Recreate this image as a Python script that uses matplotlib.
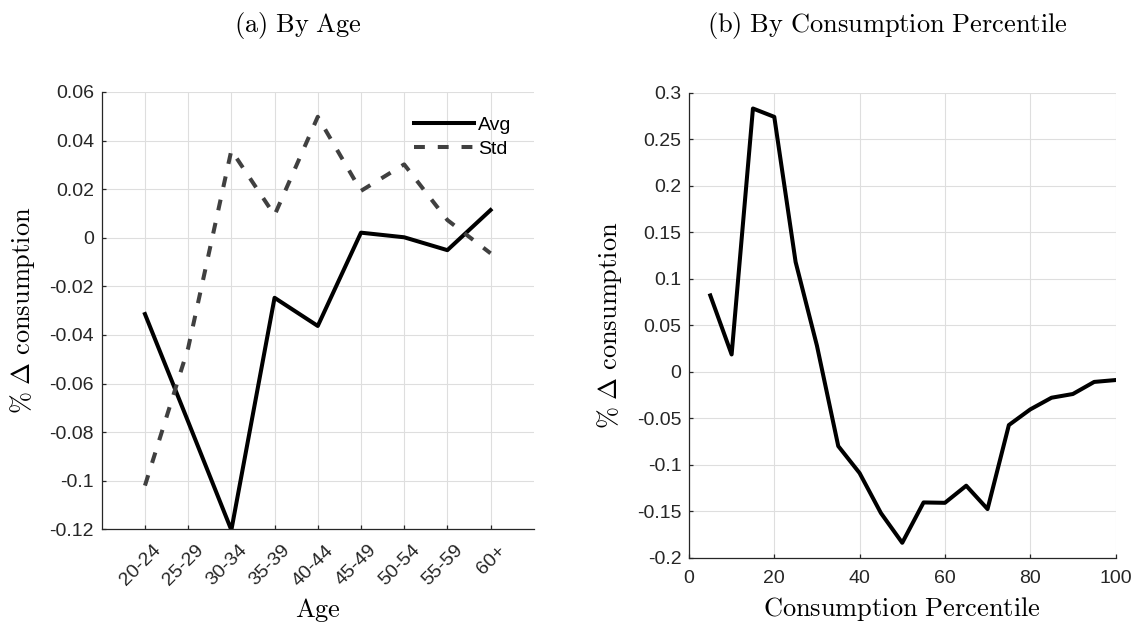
import numpy as np
import matplotlib
matplotlib.use('Agg')
import matplotlib.pyplot as plt
from matplotlib.transforms import ScaledTranslation

plt.rcParams['font.family'] = ['Liberation Sans', 'DejaVu Sans']
plt.rcParams['mathtext.fontset'] = 'cm'
plt.rcParams['axes.unicode_minus'] = False

# Panel (a): change in consumption by age group
age_groups = ['20-24', '25-29', '30-34', '35-39', '40-44', '45-49', '50-54', '55-59', '60+']
avg_age = [-0.0314, -0.0757, -0.1203, -0.0247, -0.0363, 0.0021, 0.0002, -0.0051, 0.0114]
std_age = [-0.102, -0.0454, 0.036, 0.0093, 0.0498, 0.0193, 0.0302, 0.0073, -0.0064]
yticks_age = [-0.12, -0.1, -0.08, -0.06, -0.04, -0.02, 0, 0.02, 0.04, 0.06]
yticklabels_age = ['-0.12', '-0.1', '-0.08', '-0.06', '-0.04', '-0.02', '0', '0.02', '0.04', '0.06']

# Panel (b): change in consumption by consumption percentile
pct = [5, 10, 15, 20, 25, 30, 35, 40, 45, 50, 55, 60, 65, 70, 75, 80, 85, 90, 95, 100]
avg_pct = [0.082, 0.0185, 0.283, 0.274, 0.118, 0.028, -0.080, -0.109, -0.152, -0.184,
           -0.1406, -0.141, -0.1226, -0.1477, -0.0574, -0.0406, -0.028, -0.024, -0.011, -0.009]
yticks_pct = [-0.2, -0.15, -0.1, -0.05, 0, 0.05, 0.1, 0.15, 0.2, 0.25, 0.3]
yticklabels_pct = ['-0.2', '-0.15', '-0.1', '-0.05', '0', '0.05', '0.1', '0.15', '0.2', '0.25', '0.3']
xticks_pct = [0, 20, 40, 60, 80, 100]

axcol = '#262626'
gridcol = '#dedede'
tick_fs = 14
lab_fs = 19
lw = 2.9


def style_axes(ax):
    for s in ['top', 'right']:
        ax.spines[s].set_visible(False)
    for s in ['left', 'bottom']:
        ax.spines[s].set_color(axcol)
        ax.spines[s].set_linewidth(0.9)
    ax.tick_params(direction='in', length=3.2, width=0.9, color=axcol,
                   labelcolor=axcol, labelsize=tick_fs)
    ax.tick_params(axis='y', pad=5.5)
    ax.grid(True, color=gridcol, linewidth=0.8)
    ax.set_axisbelow(True)


fig = plt.figure(figsize=(11.42, 6.25), dpi=100)
ax1 = fig.add_axes([0.0891, 0.1531, 0.3783, 0.6997])
ax2 = fig.add_axes([0.6033, 0.1077, 0.3735, 0.7440])

# (a) By Age
x_age = np.arange(1, len(age_groups) + 1)
ax1.plot(x_age, avg_age, color='black', lw=lw, label='Avg')
ax1.plot(x_age, std_age, color='#404040', lw=lw, ls=(0, (2.7, 3.2)), label='Std')
ax1.set_xlim(0, 10)
ax1.set_ylim(-0.12, 0.06)
ax1.set_xticks(x_age)
ax1.set_xticklabels(age_groups, rotation=45, ha='right', rotation_mode='anchor')
ax1.set_yticks(yticks_age)
ax1.set_yticklabels(yticklabels_age)
style_axes(ax1)
ax1.tick_params(axis='x', pad=9)
# nudge the rotated age labels to the right
shift = ScaledTranslation(7 / 100, 0, fig.dpi_scale_trans)
for lab in ax1.get_xticklabels():
    lab.set_transform(lab.get_transform() + shift)
ax1.set_xlabel(r'$\mathrm{Age}$', fontsize=lab_fs)
ax1.set_ylabel(r'$\%\ \Delta\ \mathrm{consumption}$', fontsize=lab_fs)
ax1.xaxis.set_label_coords(0.5, -0.152)
ax1.yaxis.set_label_coords(-0.150, 0.5)
ax1.legend(loc='center left', bbox_to_anchor=(0.723, 0.897), frameon=False,
           fontsize=tick_fs, handlelength=3.1, handletextpad=0.2,
           labelspacing=0.3, borderpad=0, borderaxespad=0)

# (b) By Consumption Percentile
ax2.plot(pct, avg_pct, color='black', lw=lw)
ax2.set_xlim(0, 100)
ax2.set_ylim(-0.2, 0.3)
ax2.set_xticks(xticks_pct)
ax2.set_yticks(yticks_pct)
ax2.set_yticklabels(yticklabels_pct)
style_axes(ax2)
ax2.tick_params(axis='x', pad=9)
ax2.set_xlabel(r'$\mathrm{Consumption\ Percentile}$', fontsize=lab_fs)
ax2.set_ylabel(r'$\%\ \Delta\ \mathrm{consumption}$', fontsize=lab_fs)
ax2.xaxis.set_label_coords(0.5, -0.080)
ax2.yaxis.set_label_coords(-0.152, 0.5)

fig.text(298 / 1142, 0.949, r'$\mathrm{(a)\ By\ Age}$', fontsize=lab_fs,
         ha='center', va='baseline')
fig.text(887.5 / 1142, 0.949, r'$\mathrm{(b)\ By\ Consumption\ Percentile}$',
         fontsize=lab_fs, ha='center', va='baseline')

fig.savefig('out.png', dpi=100)
